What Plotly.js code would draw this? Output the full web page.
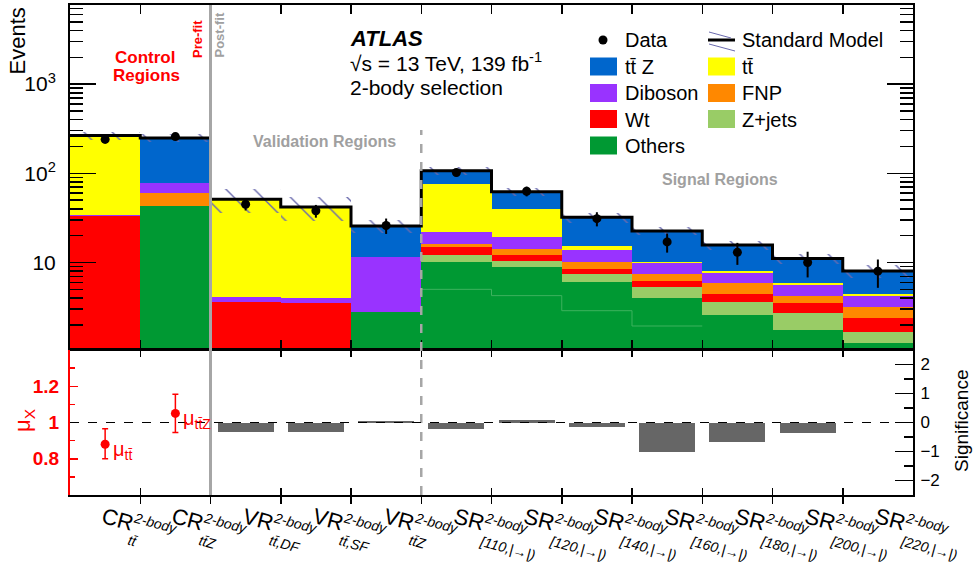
<!DOCTYPE html>
<html><head><meta charset="utf-8">
<script src="https://cdn.plot.ly/plotly-3.0.1.min.js"></script>
<style>html,body{margin:0;padding:0;background:#fff}#chart{width:973px;height:562px}</style>
</head><body><div id="chart"></div>
<script>
// ---------------- data ----------------
const regionMain = ['CR','CR','VR','VR','VR','SR','SR','SR','SR','SR','SR','SR'];
const regionSup = '2-body';
const regionSub = ['tt̄','tt̄Z','tt̄,DF','tt̄,SF','tt̄Z','[110,|→|)','[120,|→|)','[140,|→|)','[160,|→|)','[180,|→|)','[200,|→|)','[220,|→|)'];

const others  = [0,    43.4, 0,    0,    2.8,  10.2, 8.97, 6.0,  3.97, 2.58, 1.75, 1.24];
const othersLowerPart = [null, null, null, null, null, 5.0, 4.25, 2.88, 1.94, null, null, null];
const zjets   = [0,    0,    0,    0,    0,    1.9,  1.43, 1.43, 1.30, 1.06, 0.94, 0.41];
const wt      = [33.2, 0,    3.58, 3.49, 0,    2.9,  1.7,  1.08, 0.94, 0.80, 0.80, 0.72];
const fnp     = [0,    16.3, 0,    0,    0,    1.0,  2.0,  1.49, 1.22, 1.41, 0.76, 0.82];
const diboson = [0.5,  17.6, 0.49, 0.48, 8.6,  6.1,  5.1,  3.8,  2.37, 1.84, 1.35, 1.02];
const ttbar   = [228,  0,    46,   37,   0,    53.8, 20.3, 1.5,  0.4,  0.34, 0.25, 0.19];
const ttz     = [4,    172,  1,    1,    14.3, 31,   22.7, 16.8, 12.3, 7.67, 5.25, 3.63];
const smRelUnc = [0.10, 0.10, 0.30, 0.30, 0.17, 0.10, 0.10, 0.13, 0.10, 0.11, 0.13, 0.17];

const dataObs = [240, 258, 45, 38, 26, 102, 63, 31, 17, 13, 10, 8];
const dataErr = [15.5, 16, 6.7, 6.2, 5.1, 10, 7.9, 5.6, 4.1, 3.6, 3.2, 2.8];

const significance = [null, null, -0.32, -0.32, 0.06, -0.22, 0.09, -0.15, -1.01, -0.67, -0.37, -0.02];

const muBins = [0, 1];
const muNames = ['μ<sub>tt̄</sub>', 'μ<sub>tt̄Z</sub>'];
const muValues = [0.88, 1.05];
const muErrUp = [0.085, 0.106];
const muErrDown = [0.08, 0.105];

// ---------------- geometry helpers ----------------
const L = 70, R = 913, T = 5, B = 495;
const px2x = p => (p - L) / (R - L);
const px2y = p => (B - p) / (B - T);
const FONT = 'Liberation Sans, Arial, Helvetica, sans-serif';

const idx = regionMain.map((_, i) => i);
const edges = idx.map(i => i - 0.5).concat([idx.length - 0.5]);

const components = [
  {name: 'Others',  y: others,  color: '#009933'},
  {name: 'Z+jets',  y: zjets,   color: '#99CC66'},
  {name: 'Wt',      y: wt,      color: '#FF0000'},
  {name: 'FNP',     y: fnp,     color: '#FF8800'},
  {name: 'Diboson', y: diboson, color: '#9933FF'},
  {name: 'tt̄',      y: ttbar,   color: '#FFFF00'},
  {name: 'tt̄ Z',    y: ttz,     color: '#0066CC'}
];

const FLOOR = 0.1;
let cum = idx.map(() => 0);
const traces = [];
components.forEach(c => {
  const bottoms = cum.map(v => Math.max(v, FLOOR));
  const tops = cum.map((v, i) => v + c.y[i]);
  const lens = tops.map((t, i) => Math.max(t - bottoms[i], 0));
  traces.push({
    type: 'bar', x: idx, y: lens, base: bottoms, width: 1,
    marker: {color: c.color, line: {width: 0}},
    xaxis: 'x', yaxis: 'y', name: c.name, hoverinfo: 'skip', showlegend: false
  });
  cum = tops;
});
const total = cum;

// internal outline inside the "Others" stack
const splitX = [], splitY = [];
othersLowerPart.forEach((v, i) => { if (v !== null) { splitX.push(i - 0.5, i + 0.5); splitY.push(v, v); } });
traces.push({
  type: 'scatter', mode: 'lines', x: splitX, y: splitY,
  line: {color: '#3DB25E', width: 1}, xaxis: 'x', yaxis: 'y', hoverinfo: 'skip', showlegend: false
});

// SM uncertainty band (hatched)
traces.push({
  type: 'bar', x: idx,
  base: total.map((t, i) => t * (1 - smRelUnc[i])),
  y: total.map((t, i) => 2 * t * smRelUnc[i]),
  width: 1,
  marker: {color: 'rgba(0,0,0,0)', line: {width: 0},
    pattern: {shape: '\\', fgcolor: '#6A6AAE', fgopacity: 1, bgcolor: 'rgba(0,0,0,0)', size: 20, solidity: 0.07, fillmode: 'overlay'}},
  xaxis: 'x', yaxis: 'y', hoverinfo: 'skip', showlegend: false
});

// SM total outline
traces.push({
  type: 'scatter', mode: 'lines', x: edges, y: total.concat([total[total.length - 1]]),
  line: {shape: 'hv', color: 'black', width: 3},
  xaxis: 'x', yaxis: 'y', hoverinfo: 'skip', showlegend: false
});

// Data
traces.push({
  type: 'scatter', mode: 'markers', x: idx, y: dataObs,
  error_y: {type: 'data', array: dataErr, color: 'black', thickness: 2, width: 0},
  marker: {color: 'black', size: 9},
  xaxis: 'x', yaxis: 'y', name: 'Data', showlegend: false
});

// Lower panel: significance
traces.push({
  type: 'bar', x: idx, y: significance, width: 0.8,
  marker: {color: '#666666', line: {width: 0}},
  xaxis: 'x2', yaxis: 'y2', hoverinfo: 'skip', showlegend: false
});

// Lower panel: mu
traces.push({
  type: 'scatter', mode: 'markers', x: muBins, y: muValues,
  error_y: {type: 'data', symmetric: false, array: muErrUp, arrayminus: muErrDown, color: '#FF0000', thickness: 1.5, width: 3},
  marker: {color: '#FF0000', size: 9},
  xaxis: 'x2', yaxis: 'y3', showlegend: false
});

// minor tick values for log axis
const logMinor = [];
[1, 10, 100, 1000].forEach(d => { for (let k = 2; k <= 9; k++) { if (k * d < 7700) logMinor.push(k * d); } });

const shapes = [];
const annotations = [];

// separators
shapes.push({type: 'line', xref: 'x', yref: 'paper', x0: 1.5, x1: 1.5, y0: 0, y1: 1, line: {color: '#A6A6A6', width: 3}});
shapes.push({type: 'line', xref: 'x', yref: 'paper', x0: 4.5, x1: 4.5, y0: 0, y1: px2y(130), line: {color: '#A6A6A6', width: 2.5, dash: 'dash'}});
shapes.push({type: 'line', xref: 'paper', yref: 'y2', x0: 0, x1: 1, y0: 0, y1: 0, line: {color: 'black', width: 1.2, dash: 'dash'}});

// texts
function txt(text, xpx, ypx, opts) {
  annotations.push(Object.assign({
    text: text, xref: 'paper', yref: 'paper', x: px2x(xpx), y: px2y(ypx),
    showarrow: false, xanchor: 'left', yanchor: 'middle',
    font: {family: FONT, size: 21, color: 'black'}
  }, opts || {}));
}
txt('Events', 17, 5, {xanchor: 'center', yanchor: 'top', textangle: -90, font: {family: FONT, size: 22, color: 'black'}});
txt('ATLAS', 348, 38.5, {font: {family: FONT, size: 22, color: 'black', weight: 'bold', style: 'italic'}});
txt('√s = 13 TeV, 139 fb<sup>-1</sup>', 348, 62);
txt('2-body selection', 348, 87);
txt('Control', 145, 57.5, {xanchor: 'center', font: {family: FONT, size: 17, color: '#FF0000', weight: 'bold'}});
txt('Regions', 146, 76, {xanchor: 'center', font: {family: FONT, size: 17, color: '#FF0000', weight: 'bold'}});
txt('Pre-fit', 197, 60, {xanchor: 'center', yanchor: 'bottom', textangle: -90, font: {family: FONT, size: 13, color: '#FF0000', weight: 'bold'}});
txt('Post-fit', 219, 60, {xanchor: 'center', yanchor: 'bottom', textangle: -90, font: {family: FONT, size: 13, color: '#A0A0A0', weight: 'bold'}});
txt('Validation Regions', 324, 141, {xanchor: 'center', font: {family: FONT, size: 16, color: '#A0A0A0', weight: 'bold'}});
txt('Signal Regions', 720, 180, {xanchor: 'center', font: {family: FONT, size: 16, color: '#A0A0A0', weight: 'bold'}});

// lower panel axis titles
txt('μ<sub>X</sub>', 24, 421, {xanchor: 'center', textangle: -90, font: {family: FONT, size: 22, color: '#FF0000'}});
txt('Significance', 961, 421, {xanchor: 'center', textangle: -90, font: {family: FONT, size: 19, color: 'black'}});

// legend (drawn by hand)
const legRows = [40, 66.5, 93, 119, 145.5];
const legCol1 = [{t: 'Data'}, {t: 'tt̄ Z', c: '#0066CC'}, {t: 'Diboson', c: '#9933FF'}, {t: 'Wt', c: '#FF0000'}, {t: 'Others', c: '#009933'}];
const legCol2 = [{t: 'Standard Model'}, {t: 'tt̄', c: '#FFFF00'}, {t: 'FNP', c: '#FF8800'}, {t: 'Z+jets', c: '#99CC66'}];
function legendCol(list, boxX, textX) {
  list.forEach((e, r) => {
    const yc = legRows[r];
    if (e.c) {
      shapes.push({type: 'rect', xref: 'paper', yref: 'paper', x0: px2x(boxX), x1: px2x(boxX + 27), y0: px2y(yc + 9), y1: px2y(yc - 9), fillcolor: e.c, line: {width: 0}});
    }
    txt(e.t, textX, yc + 0.5, {font: {family: FONT, size: 20, color: 'black'}});
  });
}
legendCol(legCol1, 590, 623);
legendCol(legCol2, 708, 740);
shapes.push({type: 'circle', xref: 'paper', yref: 'paper', x0: px2x(598.5), x1: px2x(607.5), y0: px2y(44.5), y1: px2y(35.5), fillcolor: 'black', line: {width: 0}});
shapes.push({type: 'line', xref: 'paper', yref: 'paper', x0: px2x(708), x1: px2x(735), y0: px2y(40), y1: px2y(40), line: {color: 'black', width: 3}});
shapes.push({type: 'line', xref: 'paper', yref: 'paper', x0: px2x(709), x1: px2x(731), y0: px2y(32), y1: px2y(38), line: {color: '#6A6AAE', width: 1}});
shapes.push({type: 'line', xref: 'paper', yref: 'paper', x0: px2x(709), x1: px2x(735), y0: px2y(44), y1: px2y(51), line: {color: '#6A6AAE', width: 1}});

// mu labels
muBins.forEach((b, i) => {
  annotations.push({text: muNames[i], xref: 'x2', yref: 'y3', x: b, y: muValues[i], xanchor: 'left', yanchor: 'middle',
    xshift: 6, yshift: -6, showarrow: false, font: {family: FONT, size: 20, color: '#FF0000'}});
});

// x-axis region labels
idx.forEach(i => {
  annotations.push({text: regionMain[i], xref: 'x2', yref: 'paper', x: i, y: px2y(519), xshift: 13,
    xanchor: 'center', yanchor: 'middle', textangle: 15, showarrow: false, font: {family: FONT, size: 22, color: 'black'}});
  annotations.push({text: regionSup, xref: 'x2', yref: 'paper', x: i, y: px2y(523), xshift: 50,
    xanchor: 'center', yanchor: 'middle', textangle: 15, showarrow: false, font: {family: FONT, size: 14, color: 'black', style: 'italic'}});
  annotations.push({text: regionSub[i], xref: 'x2', yref: 'paper', x: i, y: px2y(530), xshift: 19,
    xanchor: 'left', yanchor: 'top', textangle: 15, showarrow: false, font: {family: FONT, size: 14, color: 'black', style: 'italic'}});
});

const upperBottom = px2y(349), lowerTop = px2y(350);

const layout = {
  width: 973, height: 562,
  margin: {l: L, r: 973 - R, t: T, b: 562 - B, pad: 0},
  paper_bgcolor: 'white', plot_bgcolor: 'white',
  showlegend: false, barmode: 'overlay', bargap: 0,
  font: {family: FONT, color: 'black'},
  xaxis: {domain: [0, 1], anchor: 'y', range: [-0.5, 11.5], showline: true, linewidth: 2, linecolor: 'black', mirror: 'allticks',
    ticks: 'inside', tickmode: 'array', tickvals: edges, ticklen: 9, tickwidth: 1.5, tickcolor: 'black', showticklabels: false,
    showgrid: false, zeroline: false},
  yaxis: {domain: [upperBottom, 1], anchor: 'x', type: 'log', range: [0.03, 3.887], showline: true, linewidth: 2, linecolor: 'black',
    mirror: 'allticks', ticks: 'inside', tickmode: 'array', tickvals: [10, 100, 1000], ticktext: ['10', '10<sup>2</sup>', '10<sup>3</sup>'],
    ticklen: 26, tickwidth: 1.5, tickcolor: 'black', tickfont: {family: FONT, size: 21, color: 'black'}, ticklabelstandoff: 8,
    minor: {tickmode: 'array', tickvals: logMinor, ticks: 'inside', ticklen: 13, tickwidth: 1.5, tickcolor: 'black', showgrid: false},
    showgrid: false, zeroline: false},
  xaxis2: {domain: [0, 1], anchor: 'y2', range: [-0.5, 11.5], showline: true, linewidth: 2, linecolor: 'black', mirror: 'allticks',
    ticks: 'inside', tickmode: 'array', tickvals: edges, ticklen: 7, tickwidth: 1.5, tickcolor: 'black', showticklabels: false,
    showgrid: false, zeroline: false},
  yaxis2: {domain: [0, lowerTop], anchor: 'x2', side: 'right', range: [-2.5, 2.5], showline: true, linewidth: 2, linecolor: 'black',
    ticks: 'inside', tickmode: 'array', tickvals: [-2, -1, 0, 1, 2], ticktext: ['−2', '−1', '0', '1', '2'], ticklen: 18, tickwidth: 1.5,
    tickcolor: 'black', tickfont: {family: FONT, size: 17, color: 'black'}, ticklabelstandoff: 2,
    minor: {tickmode: 'array', tickvals: [-1.5, -0.5, 0.5, 1.5], ticks: 'inside', ticklen: 9, tickwidth: 1.5, tickcolor: 'black', showgrid: false},
    showgrid: false, zeroline: false},
  yaxis3: {overlaying: 'y2', anchor: 'x2', side: 'left', range: [0.6, 1.4], showline: true, linewidth: 2, linecolor: '#FF0000',
    ticks: 'inside', tickmode: 'array', tickvals: [0.8, 1, 1.2], ticktext: ['0.8', '1', '1.2'], ticklen: 8, tickwidth: 1.5,
    tickcolor: '#FF0000', tickfont: {family: FONT, size: 19, color: '#FF0000', weight: 'bold'}, ticklabelstandoff: 5,
    minor: {tickmode: 'array', tickvals: [0.7, 0.9, 1.1, 1.3], ticks: 'inside', ticklen: 5, tickwidth: 1.5, tickcolor: '#FF0000', showgrid: false},
    showgrid: false, zeroline: false},
  shapes: shapes,
  annotations: annotations
};

Plotly.newPlot('chart', traces, layout, {displayModeBar: false, staticPlot: true});
</script>
</body></html>
